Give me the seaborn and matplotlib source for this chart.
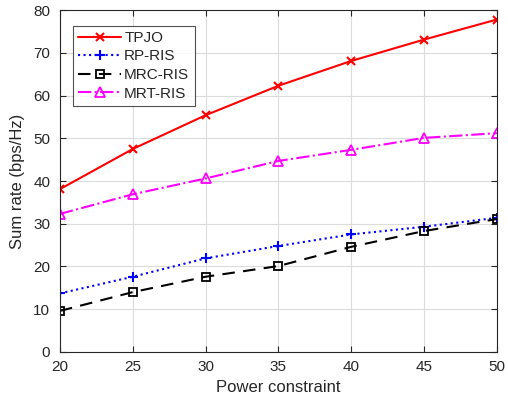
import seaborn as sns
import matplotlib.pyplot as plt

power = [20, 25, 30, 35, 40, 45, 50]
tpjo = [38.1, 47.5, 55.4, 62.3, 68.1, 73.1, 77.8]
rp_ris = [13.7, 17.6, 21.9, 24.8, 27.5, 29.3, 31.4]
mrc_ris = [9.6, 14.0, 17.6, 20.1, 24.6, 28.3, 31.1]
mrt_ris = [32.3, 36.9, 40.6, 44.7, 47.3, 50.1, 51.2]


def main():
    sns.set_style("white")
    plt.rcParams['font.family'] = ['Liberation Sans', 'DejaVu Sans']
    fig = plt.figure(figsize=(5.08, 4.05), dpi=100)
    ax = fig.add_axes([0.118, 0.131, 0.860, 0.844])

    sns.lineplot(ax=ax, x=power, y=tpjo, color='red', linestyle='-', marker='x',
                 markersize=5.5, markeredgecolor='red', markeredgewidth=1.5,
                 linewidth=1.5, label='TPJO')
    sns.lineplot(ax=ax, x=power, y=rp_ris, color='blue', linestyle=':', marker='+',
                 markersize=7, markeredgecolor='blue', markeredgewidth=1.5,
                 linewidth=1.5, label='RP-RIS')
    sns.lineplot(ax=ax, x=power, y=mrc_ris, color='black', linestyle=(0, (6, 4)), marker='s',
                 markersize=6, markerfacecolor='none', markeredgecolor='black',
                 markeredgewidth=1.3, linewidth=1.5, label='MRC-RIS')
    sns.lineplot(ax=ax, x=power, y=mrt_ris, color='magenta', linestyle='-.', marker='^',
                 markersize=7, markerfacecolor='none', markeredgecolor='magenta',
                 markeredgewidth=1.3, linewidth=1.5, label='MRT-RIS')

    ax.set_xlim(20, 50)
    ax.set_ylim(0, 80)
    ax.set_xticks(power)
    ax.set_yticks(range(0, 81, 10))
    ax.grid(True, color='#dcdcdc', linewidth=0.8)
    ax.tick_params(direction='in', length=4, labelsize=11, colors='#262626',
                   top=True, right=True, bottom=True, left=True)
    ax.tick_params(axis='x', pad=6)
    ax.tick_params(axis='y', pad=7)
    for s in ax.spines.values():
        s.set_color('#262626')
        s.set_linewidth(0.8)
    ax.set_xlabel('Power constraint', fontsize=12, color='#262626', labelpad=4)
    ax.set_ylabel('Sum rate (bps/Hz)', fontsize=12, color='#262626', labelpad=6)

    leg = ax.legend(loc='upper left', bbox_to_anchor=(0.03, 0.955), fontsize=11,
                    frameon=True, fancybox=False, edgecolor='#262626',
                    handlelength=2.8, borderpad=0.35, labelspacing=0.3,
                    handletextpad=0.2, borderaxespad=0)
    leg.get_frame().set_linewidth(0.8)

    plt.savefig('out.png', dpi=100)


if __name__ == "__main__":
    main()
